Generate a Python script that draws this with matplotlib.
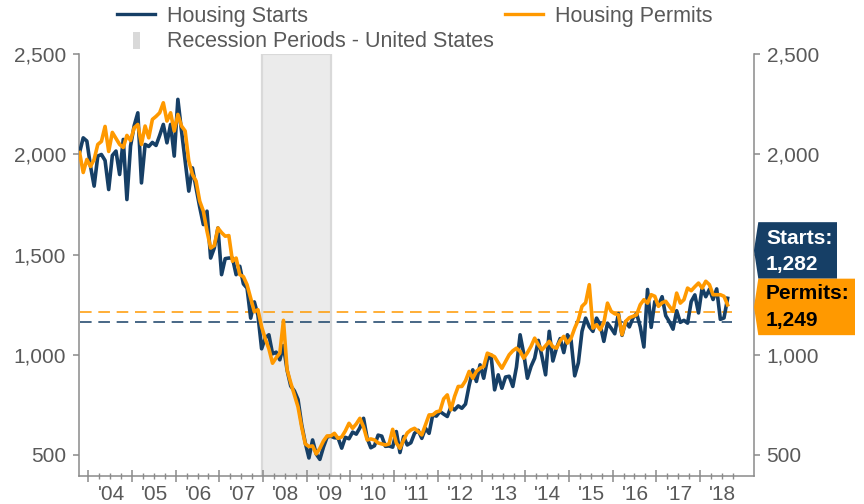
import matplotlib
matplotlib.use("Agg")
import matplotlib.pyplot as plt
from matplotlib.patches import Polygon, Rectangle
from matplotlib.lines import Line2D
import matplotlib.transforms as mtransforms
import numpy as np

plt.rcParams['font.family'] = ['Liberation Sans', 'DejaVu Sans']

# ---------------- data (thousands of units, SAAR), monthly Oct 2003 .. Aug 2018
start_year, start_month = 2003, 10
starts = [
    2010, 2083, 2067,
    1942, 1842, 1992, 2000, 1970, 1825, 1995, 2017, 1900, 2075, 1775, 2042,
    2144, 2208, 1858, 2050, 2040, 2060, 2045, 2095, 2150, 2058, 2150, 1992,
    2275, 2117, 1969, 1817, 1933, 1833, 1737, 1650, 1717, 1483, 1533, 1633,
    1400, 1480, 1483, 1483, 1400, 1442, 1354, 1333, 1183, 1264, 1197, 1030,
    1084, 1100, 1005, 1013, 975, 1046, 923, 844, 820, 777, 652, 560,
    485, 575, 505, 478, 540, 590, 594, 586, 585, 534, 588, 581,
    614, 604, 636, 683, 583, 536, 546, 599, 594, 543, 545, 539,
    617, 512, 592, 550, 561, 608, 623, 583, 633, 608, 700, 694,
    717, 704, 692, 740, 725, 745, 733, 754, 847, 925, 867, 950,
    883, 976, 1000, 825, 900, 833, 889, 893, 842, 939, 1100, 1005,
    883, 942, 983, 1072, 992, 900, 1117, 969, 1034, 1081, 1011, 1100,
    1072, 895, 960, 1117, 1183, 1140, 1117, 1183, 1150, 1067, 1158, 1133,
    1105, 1206, 1097, 1166, 1139, 1184, 1206, 1140, 1039, 1326, 1137, 1266,
    1246, 1290, 1195, 1165, 1128, 1220, 1162, 1172, 1158, 1266, 1299, 1209,
    1334, 1290, 1327, 1276, 1329, 1177, 1184, 1282,
]
permits = [
    2010, 1910, 1975,
    1940, 1975, 2050, 2065, 2140, 2015, 2110, 2080, 2050, 2035, 2095, 2070,
    2133, 2150, 2050, 2142, 2083, 2175, 2190, 2208, 2258, 2167, 2208, 2117,
    2200, 2142, 2117, 1967, 1900, 1867, 1767, 1717, 1617, 1533, 1545, 1633,
    1610, 1592, 1595, 1467, 1483, 1400, 1390, 1350, 1283, 1215, 1225, 1140,
    1080, 1030, 958, 985, 1008, 1172, 925, 860, 800, 740, 640, 555,
    542, 545, 505, 533, 570, 595, 595, 608, 583, 590, 620, 658,
    633, 655, 683, 640, 575, 580, 575, 560, 555, 550, 555, 628,
    560, 533, 575, 610, 625, 633, 617, 600, 650, 700, 700, 715,
    720, 780, 800, 725, 792, 842, 842, 870, 917, 883, 917, 933,
    942, 1008, 1000, 990, 960, 933, 967, 1000, 1020, 1033, 1017, 983,
    1010, 1042, 1083, 1050, 1025, 1045, 1067, 1040, 1033, 1070, 1092, 1058,
    1083, 1133, 1175, 1242, 1260, 1350, 1133, 1150, 1125, 1160, 1258, 1217,
    1205, 1200, 1100, 1167, 1185, 1192, 1200, 1250, 1275, 1258, 1300, 1292,
    1242, 1260, 1267, 1242, 1217, 1308, 1258, 1275, 1333, 1320, 1340, 1358,
    1333, 1367, 1350, 1300, 1300, 1300, 1292, 1249,
]
avg_starts = 1162
avg_permits = 1212
recession = [(2007, 12), (2009, 7)]
year_labels = ["'04", "'05", "'06", "'07", "'08", "'09", "'10", "'11",
               "'12", "'13", "'14", "'15", "'16", "'17", "'18"]
label_years = list(range(2004, 2019))
yticks = [500, 1000, 1500, 2000, 2500]
last_starts_label = "1,282"
last_permits_label = "1,249"

# ---------------- style
NAVY = '#163f66'
ORANGE = '#ff9900'
TXT = '#595959'
AXC = '#8a8a8a'


def to_x(year, month):
    return year + (month - 0.4) / 12.0


x = np.array([to_x(start_year, start_month + i) for i in range(len(starts))])

W_PX, H_PX = 864, 504
fig = plt.figure(figsize=(W_PX / 100, H_PX / 100), dpi=100)
L, R, B, T = 78.7, 754.0, 476.0, 54.3
ax = fig.add_axes([L / W_PX, 1 - B / H_PX, (R - L) / W_PX, (B - T) / H_PX])

ax.axvspan(to_x(*recession[0]), to_x(*recession[1]), facecolor='#ebebeb',
           edgecolor='#d9d9d9', lw=1.6, zorder=0)

ax.hlines(avg_starts, x[0], x[-1] + 0.1, colors=NAVY, lw=1.1,
          linestyles=(0, (7.6, 4.4)), zorder=2)
ax.hlines(avg_permits, x[0], x[-1] + 0.1, colors=ORANGE, lw=1.1,
          linestyles=(0, (7.6, 4.4)), zorder=2)

ax.plot(x, starts, color=NAVY, lw=2.6, solid_joinstyle='round', zorder=3)
ax.plot(x, permits, color=ORANGE, lw=2.6, solid_joinstyle='round', zorder=4)

ax.set_xlim(2003.78, 2019.237)
ax.set_ylim(395, 2500)

ax.spines['top'].set_visible(False)
for s in ['left', 'right', 'bottom']:
    ax.spines[s].set_color(AXC)
    ax.spines[s].set_linewidth(1.1)

ax.set_yticks(yticks)
ax.set_yticklabels([f"{v:,}" for v in yticks])
ax.tick_params(axis='y', left=True, right=True, labelleft=True, labelright=True,
               direction='out', length=4.5, width=1.1, color=AXC,
               labelcolor=TXT, labelsize=15, pad=4.5)

major = np.arange(2004, 2019)
minor = [y + q / 4 for y in range(2004, 2019) for q in (1, 2, 3)]
ax.set_xticks(major)
ax.set_xticks(minor, minor=True)
ax.set_xticklabels([])
ax.tick_params(axis='x', which='major', direction='inout', length=8, width=1.1,
               color=AXC)
ax.tick_params(axis='x', which='minor', direction='inout', length=4.5, width=1.0,
               color=AXC)

trans = mtransforms.blended_transform_factory(ax.transData, ax.transAxes)
lab_y = -(499.5 - B) / (B - T)
for yr, lab in zip(label_years, year_labels):
    ax.text(yr + 0.52, lab_y, lab, transform=trans, ha='center', va='baseline',
            fontsize=15, color=TXT)

# ---------------- legend (figure level)
def fx(px):
    return px / W_PX


def fy(py):
    return 1 - py / H_PX


fig.add_artist(Line2D([fx(117), fx(155)], [fy(14.3), fy(14.3)], color=NAVY, lw=2.4))
fig.text(fx(167), fy(21.7), 'Housing Starts', fontsize=15.5, color=TXT, va='baseline')
fig.add_artist(Line2D([fx(505), fx(543)], [fy(14.3), fy(14.3)], color=ORANGE, lw=2.4))
fig.text(fx(555), fy(21.7), 'Housing Permits', fontsize=15.5, color=TXT, va='baseline')
fig.add_artist(Rectangle((fx(133), fy(49)), fx(7), (49 - 32) / H_PX,
                         transform=fig.transFigure, facecolor='#d9d9d9', edgecolor='none'))
fig.text(fx(167), fy(46.7), 'Recession Periods - United States', fontsize=15.5,
         color=TXT, va='baseline')

# ---------------- value callouts
fig.canvas.draw()
y_perm_disp = ax.transData.transform((2010, permits[-1]))[1]
p_mid = H_PX - y_perm_disp * (H_PX / fig.bbox.height)
box_h = 56.5
tip_x, notch_x = 754.0, 758.3


def callout(top, right, color):
    mid = top + box_h / 2
    pts = [(notch_x, top), (right, top), (right, top + box_h),
           (notch_x, top + box_h), (tip_x, mid)]
    fig.add_artist(Polygon([(fx(a), fy(b)) for a, b in pts], closed=True,
                           transform=fig.transFigure, facecolor=color,
                           edgecolor='none', zorder=10))


p_top = p_mid - box_h / 2 + 2
s_top = p_top - box_h
callout(s_top, 837, NAVY)
callout(p_top, 855, ORANGE)
fig.text(fx(766), fy(s_top + 21.5), 'Starts:', fontsize=15, fontweight='bold',
         color='white', va='baseline', zorder=11)
fig.text(fx(766), fy(s_top + 48), last_starts_label, fontsize=15, fontweight='bold',
         color='white', va='baseline', zorder=11)
fig.text(fx(766), fy(p_top + 20.5), 'Permits:', fontsize=15, fontweight='bold',
         color='black', va='baseline', zorder=11)
fig.text(fx(766), fy(p_top + 47), last_permits_label, fontsize=15, fontweight='bold',
         color='black', va='baseline', zorder=11)

fig.savefig('out.png', dpi=100)
